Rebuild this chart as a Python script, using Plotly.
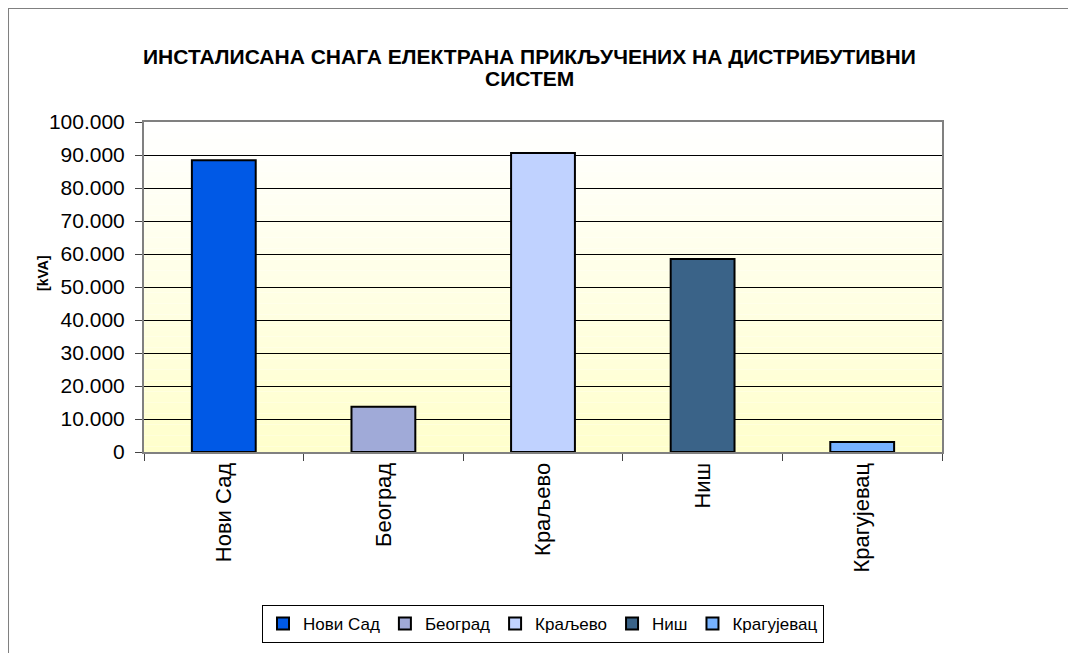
import plotly.graph_objects as go

# податоци
gradovi = ["Нови Сад", "Београд", "Краљево", "Ниш", "Крагујевац"]
snaga_kva = [88400, 13700, 90600, 58500, 3000]
boje = ["#0059E6", "#A0AAD8", "#C0D2FF", "#3A6388", "#76B2FF"]

naslov_1 = "ИНСТАЛИСАНА СНАГА ЕЛЕКТРАНА ПРИКЉУЧЕНИХ НА ДИСТРИБУТИВНИ"
naslov_2 = "СИСТЕМ"
y_naslov = "[kVA]"
y_tickovi = list(range(0, 100001, 10000))

fig = go.Figure()
for grad, vrednost, boja in zip(gradovi, snaga_kva, boje):
    fig.add_trace(go.Bar(x=[grad], y=[vrednost], name=grad, width=0.4,
                         marker=dict(color=boja, line=dict(color="black", width=2))))

# gradijent pozadine (belo gore -> svetlo zuto dole)
n = 60
for i in range(n):
    t = i / (n - 1)
    b = int(round(255 - (255 - 204) * t))
    fig.add_shape(type="rect", xref="x domain", yref="y domain",
                  x0=0, x1=1, y0=1 - (i + 1) / n, y1=1 - i / n,
                  fillcolor=f"rgb(255,255,{b})", line_width=0, layer="below")

# okvir grafikona
fig.add_shape(type="rect", xref="paper", yref="paper",
              x0=-0.1704, x1=1.3, y0=-0.8, y1=1.3455,
              line=dict(color="#808080", width=2), fillcolor="rgba(0,0,0,0)")

# naslov u dva reda i naziv y ose
naslov_font = dict(size=21, weight="bold", color="black")
fig.add_annotation(text=naslov_1, xref="paper", yref="paper", x=0.4825, y=1.2,
                   xanchor="center", yanchor="middle", showarrow=False, font=naslov_font)
fig.add_annotation(text=naslov_2, xref="paper", yref="paper", x=0.4825, y=1.1333,
                   xanchor="center", yanchor="middle", showarrow=False, font=naslov_font)
fig.add_annotation(text=y_naslov, xref="paper", yref="paper", x=-0.1266, y=0.5424,
                   xanchor="center", yanchor="middle", textangle=-90, showarrow=False,
                   font=dict(size=14, weight="bold", color="black"))

fig.update_layout(
    width=1076, height=653,
    margin=dict(l=136, r=142, t=114, b=209),
    paper_bgcolor="white", plot_bgcolor="white",
    barmode="overlay",
    separators=",.",
    font=dict(family="Liberation Sans, Arial", color="black"),
    legend=dict(orientation="h", x=0.5, xanchor="center", y=-0.4636, yanchor="top",
                bordercolor="black", borderwidth=1, font=dict(size=17),
                itemwidth=30, tracegroupgap=0),
    xaxis=dict(tickangle=-90, tickfont=dict(size=22), ticks="outside", ticklen=7,
               tickson="boundaries", tickcolor="#444", showline=True, linecolor="#808080",
               linewidth=2, mirror=True, showgrid=False),
    yaxis=dict(range=[0, 100000], tickvals=y_tickovi, tickformat=",d",
               tickfont=dict(size=21), ticks="outside", ticklen=7, tickcolor="#444",
               ticklabelstandoff=6,
               showline=True, linecolor="#808080", linewidth=2, mirror=True,
               showgrid=True, gridcolor="black", gridwidth=1, zeroline=False),
)

fig.write_html("out.html")
